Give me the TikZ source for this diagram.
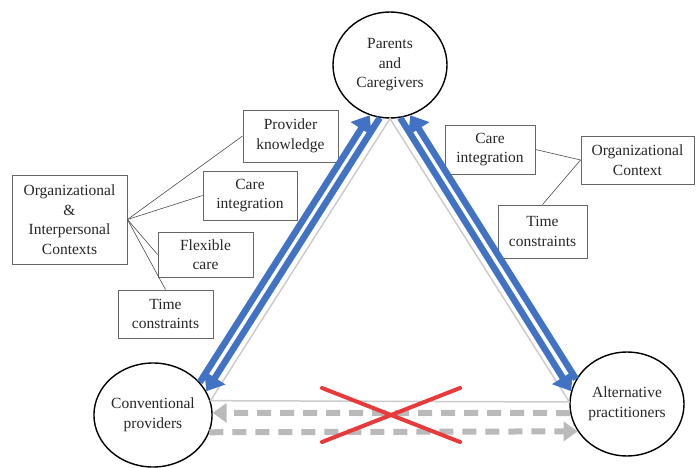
\documentclass[tikz,border=0pt]{standalone}
\usepackage{fontspec}
\setmainfont{Liberation Serif}
\usetikzlibrary{shapes.geometric,arrows.meta}
\definecolor{flowblue}{RGB}{66,114,196}
\definecolor{crossred}{RGB}{232,58,58}
\begin{document}
\begin{tikzpicture}[x=1pt,y=-1pt,
    actor/.style={ellipse,draw,line width=1.4pt,minimum width=114pt,minimum height=106pt,inner sep=0pt,align=center,text=black!85,font=\fontsize{15.5}{19.5}\selectfont},
    factor/.style={draw=black!60,line width=0.9pt,inner sep=0pt,align=center,text=black!85,font=\fontsize{15.5}{19.5}\selectfont},
    link/.style={black!70,line width=0.6pt},
    side/.style={black!20,line width=1.5pt},
    flow/.style={flowblue,line width=6.5pt,-{Triangle[width=24pt,length=16pt]}},
    blocked/.style={black!27,line width=6pt,dash pattern=on 14pt off 9pt,-{Triangle[width=19pt,length=14pt]}}]
    \useasboundingbox (0,0) rectangle (696,468);
    % the three actors
    \node[actor] (pc) at (390,65) {Parents\\and\\Caregivers};
    \node[actor,minimum width=110pt,minimum height=104pt] (cp) at (153,415) {Conventional\\providers};
    \node[actor,minimum height=104pt] (ap) at (627,404) {Alternative\\practitioners};
    % contexts
    \node[factor,minimum width=115pt,minimum height=89pt] (org) at (69.5,219.5) {Organizational\\\&\\Interpersonal\\Contexts};
    \node[factor,minimum width=95pt,minimum height=52pt] (prov) at (290.5,136) {Provider\\knowledge};
    \node[factor,minimum width=94pt,minimum height=49pt] (careL) at (250,195.5) {Care\\integration};
    \node[factor,minimum width=95pt,minimum height=45pt] (flex) at (205.5,254.5) {Flexible\\care};
    \node[factor,minimum width=95pt,minimum height=48pt] (timeL) at (165.5,314) {Time\\constraints};
    \node[factor,minimum width=90pt,minimum height=49pt] (careR) at (490,149.5) {Care\\integration};
    \node[factor,minimum width=113pt,minimum height=48pt] (orgR) at (637.5,160) {Organizational\\Context};
    \node[factor,minimum width=89pt,minimum height=53pt] (timeR) at (542.5,231.5) {Time\\constraints};
    \draw[link] (org.east) -- (prov.west);
    \draw[link] (org.east) -- (careL.west);
    \draw[link] (org.east) -- (flex.west);
    \draw[link] (org.east) -- (timeL.north);
    \draw[link] (orgR.west) -- (careR.east);
    \draw[link] (orgR.west) -- (timeR.north);
    % triangle and flows
    \draw[side] (pc.south) -- (cp.14) -- (ap.178) -- cycle;
    \draw[flow] (cp.35) -- (pc.248);
    \draw[flow] (pc.259) -- (cp.24);
    \draw[flow] (ap.154) -- (pc.292);
    \draw[flow] (pc.281) -- (ap.167);
    \draw[blocked] (ap.189) -- (cp.2);
    \draw[blocked] (cp.343) -- (ap.209);
    \draw[crossred,line width=4pt,line cap=round] (322,388) -- (460,442) (460,388) -- (322,442);
\end{tikzpicture}
\end{document}
